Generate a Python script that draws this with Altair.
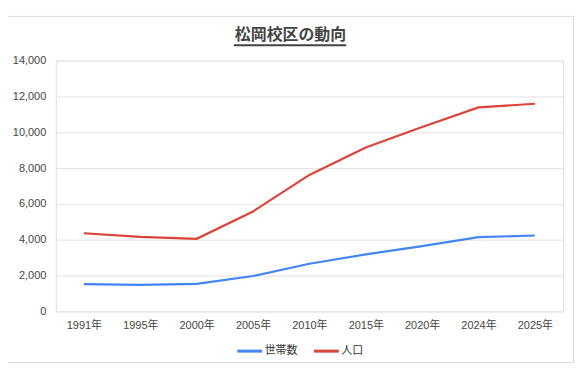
import altair as alt
import pandas as pd

years = ["1991年", "1995年", "2000年", "2005年", "2010年", "2015年", "2020年", "2024年", "2025年"]
households = [1515, 1480, 1530, 1975, 2660, 3180, 3640, 4140, 4235]
population = [4360, 4160, 4050, 5580, 7620, 9155, 10300, 11390, 11595]
series_names = ["世帯数", "人口"]
y_ticks = [0, 2000, 4000, 6000, 8000, 10000, 12000, 14000]
title_text = "松岡校区の動向"

rows = []
for y, h, p in zip(years, households, population):
    rows.append({"year": y, "series": series_names[0], "value": h})
    rows.append({"year": y, "series": series_names[1], "value": p})
df = pd.DataFrame(rows)

FONT = "Liberation Sans, Noto Sans CJK JP"

lines = alt.Chart(df).mark_line(strokeWidth=2.2).encode(
    x=alt.X("year:O", sort=years,
            scale=alt.Scale(type="point", padding=0.5),
            axis=alt.Axis(title=None, labelAngle=0, ticks=False, domain=False,
                          grid=False, labelPadding=8, labelFontSize=11,
                          labelColor="#444", labelFont=FONT)),
    y=alt.Y("value:Q", scale=alt.Scale(domain=[0, 14000], nice=False),
            axis=alt.Axis(title=None, values=y_ticks, format=",.0f", ticks=False,
                          domain=False, gridColor="#e3e3e3", gridWidth=1,
                          labelPadding=10, labelFontSize=11, labelColor="#444",
                          labelFont=FONT)),
    color=alt.Color("series:N",
                    scale=alt.Scale(domain=series_names, range=["#4285F4", "#DB4437"]),
                    legend=alt.Legend(title=None, orient="none", direction="horizontal",
                                      legendX=181, legendY=278,
                                      symbolType="stroke", symbolSize=625,
                                      symbolStrokeWidth=3, labelFontSize=11,
                                      labelColor="#333", labelFont=FONT,
                                      columnPadding=10, labelOffset=1)),
)

one = alt.Data(values=[{"a": 1}])

frame = alt.Chart(one).mark_rect(fill="transparent", stroke="#dcdcdc", strokeWidth=1).encode(
    x=alt.value(-48.5), x2=alt.value(520.5), y=alt.value(-44.5), y2=alt.value(303.5)
)

title = alt.Chart(one).mark_text(
    text=title_text, fontSize=16, fontWeight="bold", color="#444",
    font=FONT, align="center", baseline="alphabetic"
).encode(x=alt.value(236), y=alt.value(-21))

underline = alt.Chart(one).mark_rule(color="#444", strokeWidth=2).encode(
    x=alt.value(179), x2=alt.value(292), y=alt.value(-15.5)
)

chart = alt.layer(frame, lines, title, underline).properties(
    width=510, height=252,
    autosize=alt.AutoSizeParams(type="none"),
    padding={"left": 48, "top": 52, "right": 13, "bottom": 53},
).configure_view(stroke=None).configure(background="white")

chart.save("out.html", embed_options={"renderer": "svg", "actions": False})
